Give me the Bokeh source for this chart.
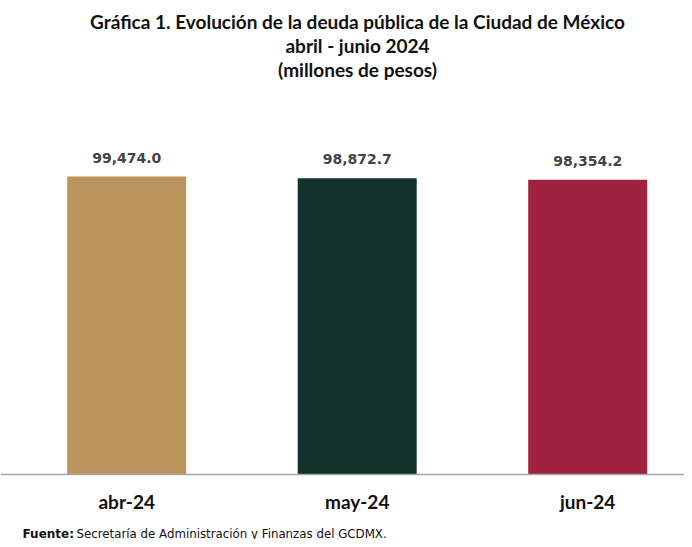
from bokeh.plotting import figure
from bokeh.models import Range1d, Span, Label, ColumnDataSource
from bokeh.core.properties import value
from bokeh.embed import file_html
from bokeh.resources import INLINE

# ---- data ----
categories = ["abr-24", "may-24", "jun-24"]
deuda = [99474.0, 98872.7, 98354.2]
colors = ["#BC955C", "#13322B", "#9F2241"]
title_lines = [
    "Gráfica 1. Evolución de la deuda pública de la Ciudad de México",
    "abril - junio 2024",
    "(millones de pesos)",
]
source_bold = "Fuente:"
source_text = "Secretaría  de Administración y Finanzas del GCDMX."

# ---- layout constants (pixels) ----
W, H = 684, 539
FONT = "Lato"
first_center_px = 126.2     # center of first bar from left of frame
cat_step_px = 230.5         # pixels between category centers
base_px = H - 474           # baseline height from bottom of frame
bar_px = 298                # pixel height of largest bar

xs = -first_center_px / cat_step_px
xe = xs + W / cat_step_px
upp = max(deuda) / bar_px
ys = -base_px * upp
ye = (H - base_px) * upp

p = figure(width=W, height=H, output_backend="svg", toolbar_location=None,
           x_range=Range1d(xs, xe), y_range=Range1d(ys, ye),
           min_border=0, x_axis_location=None, y_axis_location=None)
p.outline_line_color = None
p.grid.visible = False
p.background_fill_color = "white"
p.border_fill_color = "white"

src = ColumnDataSource(dict(
    x=list(range(len(categories))),
    top=deuda,
    color=colors,
    cat=categories,
    lbl=[f"{v:,.1f}" for v in deuda],
))

p.vbar(x="x", top="top", bottom=0, width=119 / cat_step_px, color="color",
       line_color=None, source=src)

p.add_layout(Span(location=0, dimension="width", line_color="#A6A6A6", line_width=1.5))

p.text(x="x", y="top", text="lbl", source=src, text_align="center",
       text_baseline="middle", y_offset=-19,
       text_font=value("DejaVu Sans"), text_font_style="bold",
       text_font_size="14px", text_color="#444444")

p.text(x="x", y=0, text="cat", source=src, text_align="center",
       text_baseline="middle", y_offset=27,
       text_font=value(FONT), text_font_style="bold",
       text_font_size="19px", text_color="#111111")

centers_from_top = [21, 45, 69]
for t, yc in zip(title_lines, centers_from_top):
    p.add_layout(Label(x=357, y=H - yc, x_units="screen", y_units="screen", text=t,
                       text_align="center", text_baseline="middle",
                       text_font=FONT, text_font_style="bold",
                       text_font_size="19px", text_color="#111111"))

src_y = H - 533
p.add_layout(Label(x=22, y=src_y, x_units="screen", y_units="screen", text=source_bold,
                   text_align="left", text_baseline="middle",
                   text_font="DejaVu Sans", text_font_style="bold",
                   text_font_size="12px", text_color="#111111"))
p.add_layout(Label(x=76, y=src_y, x_units="screen", y_units="screen", text=source_text,
                   text_align="left", text_baseline="middle",
                   text_font="DejaVu Sans", text_font_size="11.8px", text_color="#111111"))

open("out.html", "w").write(file_html(p, INLINE))
